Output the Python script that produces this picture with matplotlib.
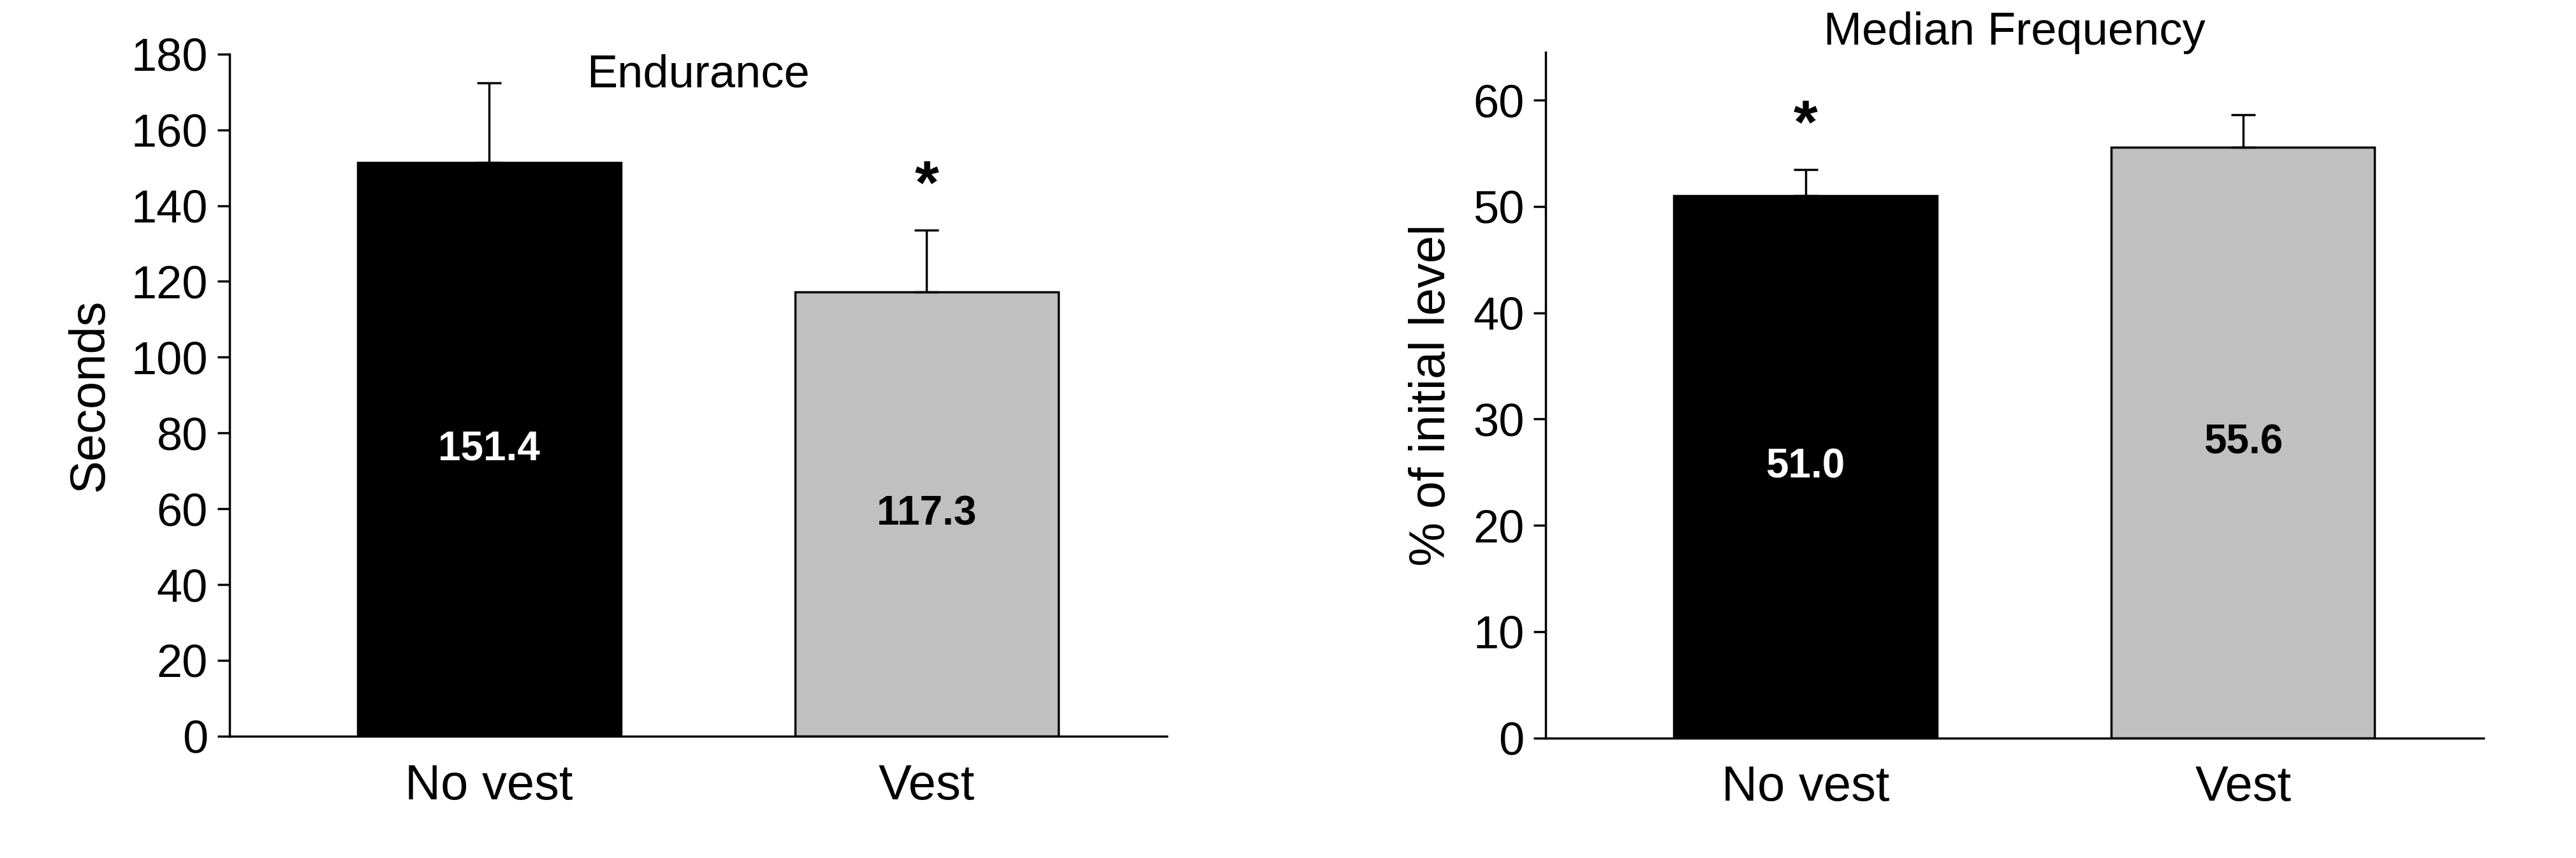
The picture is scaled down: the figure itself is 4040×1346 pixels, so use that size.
import matplotlib.pyplot as plt

groups = ["No vest", "Vest"]
endurance = [151.4, 117.3]
endurance_err = [21.0, 16.3]
median_freq = [51.0, 55.6]
median_freq_err = [2.5, 3.0]

plt.rcParams["font.family"] = ["Liberation Sans", "DejaVu Sans"]
fig = plt.figure(figsize=(40.4, 13.46), dpi=100)
colors = ["black", "#c0c0c0"]
label_colors = ["white", "black"]

def panel(rect, vals, errs, ylim, yticks, ylabel, title, title_y, star_idx):
    ax = fig.add_axes(rect)
    pos = [158, 424]
    ax.bar(pos, vals, width=160, color=colors, edgecolor="black", linewidth=2.5,
           yerr=[[0, 0], errs], error_kw=dict(ecolor="black", elinewidth=2.5, capsize=14, capthick=2.5))
    for p, v, c in zip(pos, vals, label_colors):
        ax.text(p, v * 0.5, f"{v:.1f}", ha="center", va="center", color=c,
                fontsize=46, fontweight="bold")
    s = star_idx
    ax.text(pos[s], vals[s] + errs[s] + ylim * 0.02, "*", ha="center", va="bottom",
            fontsize=70, fontweight="bold")
    ax.set_xlim(0, 570)
    ax.set_ylim(0, ylim)
    ax.set_yticks(yticks)
    ax.set_xticks(pos)
    ax.set_xticklabels(groups)
    ax.tick_params(axis="x", length=0, pad=30, labelsize=56)
    ax.tick_params(axis="y", length=14, width=2.5, labelsize=52, pad=10)
    for sp in ["top", "right"]:
        ax.spines[sp].set_visible(False)
    for sp in ["left", "bottom"]:
        ax.spines[sp].set_linewidth(2.5)
    ax.set_ylabel(ylabel, fontsize=56, labelpad=20)
    ax.text(0.5, title_y, title, transform=ax.transAxes, ha="center", va="top", fontsize=52)
    return ax

panel([0.089, 0.142, 0.364, 0.795], endurance, endurance_err, 180,
      range(0, 181, 20), "Seconds", "Endurance", 1.0, 1)
panel([0.600, 0.140, 0.364, 0.799], median_freq, median_freq_err, 64.5,
      range(0, 61, 10), "% of initial level", "Median Frequency", 1.06, 0)

fig.savefig("out.png", dpi=100, facecolor="white")
